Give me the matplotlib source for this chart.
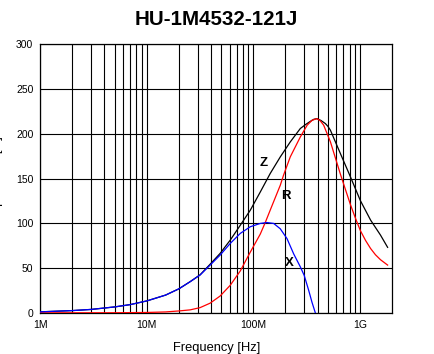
import matplotlib
matplotlib.use("Agg")
import matplotlib.pyplot as plt
from matplotlib.ticker import FixedLocator, NullFormatter

plt.rcParams['font.family'] = ['Liberation Sans', 'DejaVu Sans']

title = "HU-1M4532-121J"

# X (reactance) curve
freq_x = [1e6, 2e6, 3e6, 5e6, 7e6, 10e6, 15e6, 20e6, 25.5e6, 31.6e6, 39.3e6,
          48.8e6, 60.7e6, 75.4e6, 93.6e6, 116e6, 134e6, 155e6, 179e6, 207e6,
          239e6, 276e6, 300e6, 330e6, 355e6, 382e6]
x_vals = [1.3, 2.7, 4.0, 6.8, 9.4, 13.5, 20, 27, 34.9, 42.4, 53.5,
          64.7, 77.7, 88.9, 96.3, 100, 101, 100, 94, 83,
          66, 51.5, 42, 25.6, 12, 0]

# R (resistance) curve
freq_r = [1e6, 5e6, 10e6, 15e6, 20e6, 25.5e6, 31.6e6, 39.3e6, 48.8e6, 60.7e6,
          75.4e6, 93.6e6, 116e6, 129e6, 144e6, 179e6, 192e6, 222e6, 276e6,
          320e6, 356e6, 396e6, 425e6, 457e6, 529e6, 656e6, 731e6, 815e6,
          907e6, 1.01e9, 1.13e9, 1.26e9, 1.40e9, 1.56e9, 1.82e9]
r_vals = [0.2, 0.3, 0.6, 1.2, 2.3, 3.5, 6, 11, 19, 31,
          47, 68, 88, 100.7, 114.9, 142.7, 153.9, 174.3, 196.6,
          209.7, 215.2, 217, 214.5, 209.7, 191, 155, 138, 121,
          106, 92, 81, 72, 65, 59.5, 53.5]

# Z (impedance) curve
freq_z = [1e6, 2e6, 3e6, 5e6, 7e6, 10e6, 15e6, 20e6, 25.5e6, 31.6e6, 39.3e6,
          48.8e6, 60.7e6, 75.4e6, 93.6e6, 116e6, 144e6, 179e6, 222e6, 276e6,
          310e6, 343e6, 370e6, 396e6, 430e6, 474e6, 500e6, 529e6, 656e6,
          815e6, 1.01e9, 1.26e9, 1.56e9, 1.82e9]
z_vals = [1.3, 2.7, 4.0, 6.8, 9.4, 13.5, 20, 27, 35, 42.6, 54.5,
          66.6, 81.4, 98, 114.8, 135, 155.8, 174.3, 191, 206,
          210.5, 214, 216.3, 217, 215, 211.5, 208.5, 204, 178,
          152, 125.5, 103.7, 87, 73.3]

curve_labels = ["Z", "R", "X"]
label_freq = [125e6, 201e6, 219e6]
label_vals = [167, 130.8, 55.4]

xticks = [1e6, 1e7, 1e8, 1e9]
xtick_labels = ["1M", "10M", "100M", "1G"]
yticks = [0, 50, 100, 150, 200, 250, 300]

fig = plt.figure(figsize=(4.35, 3.54), dpi=100)
ax = fig.add_axes([0.0926, 0.1158, 0.8085, 0.7591])

ax.plot(freq_z, z_vals, color='black', lw=0.9, zorder=3)
ax.plot(freq_r, r_vals, color='red', lw=0.9, zorder=4)
ax.plot(freq_x, x_vals, color='blue', lw=0.9, zorder=5)

for lab, f, v in zip(curve_labels, label_freq, label_vals):
    ax.text(f, v, lab, ha='center', va='center', fontsize=9.5,
            fontweight='bold', zorder=6)

ax.set_xscale('log')
ax.set_xlim(1e6, 2e9)
ax.set_ylim(0, 300)

minor = [m * 10**e for e in range(6, 10) for m in range(2, 10) if m * 10**e < 2e9]
ax.xaxis.set_major_locator(FixedLocator(xticks))
ax.xaxis.set_minor_locator(FixedLocator(minor))
ax.xaxis.set_minor_formatter(NullFormatter())
ax.set_xticklabels(xtick_labels)
ax.set_yticks(yticks)

ax.grid(True, which='both', axis='x', color='black', lw=0.8)
ax.grid(True, which='major', axis='y', color='black', lw=0.8)
ax.tick_params(which='both', length=0, labelsize=7.5, pad=5)
for s in ax.spines.values():
    s.set_linewidth(0.9)

ax.set_xlabel("Frequency [Hz]", fontsize=9.3, labelpad=9)
ax.set_title(title, fontsize=14.8, fontweight='bold', pad=14)
# y label is mostly cut off at the left edge, as in the original
fig.text(-0.008, 0.4955, "Impedance [Ω]", rotation=90, ha='center',
         va='center', fontsize=9.3)

fig.savefig("out.png", dpi=100)
